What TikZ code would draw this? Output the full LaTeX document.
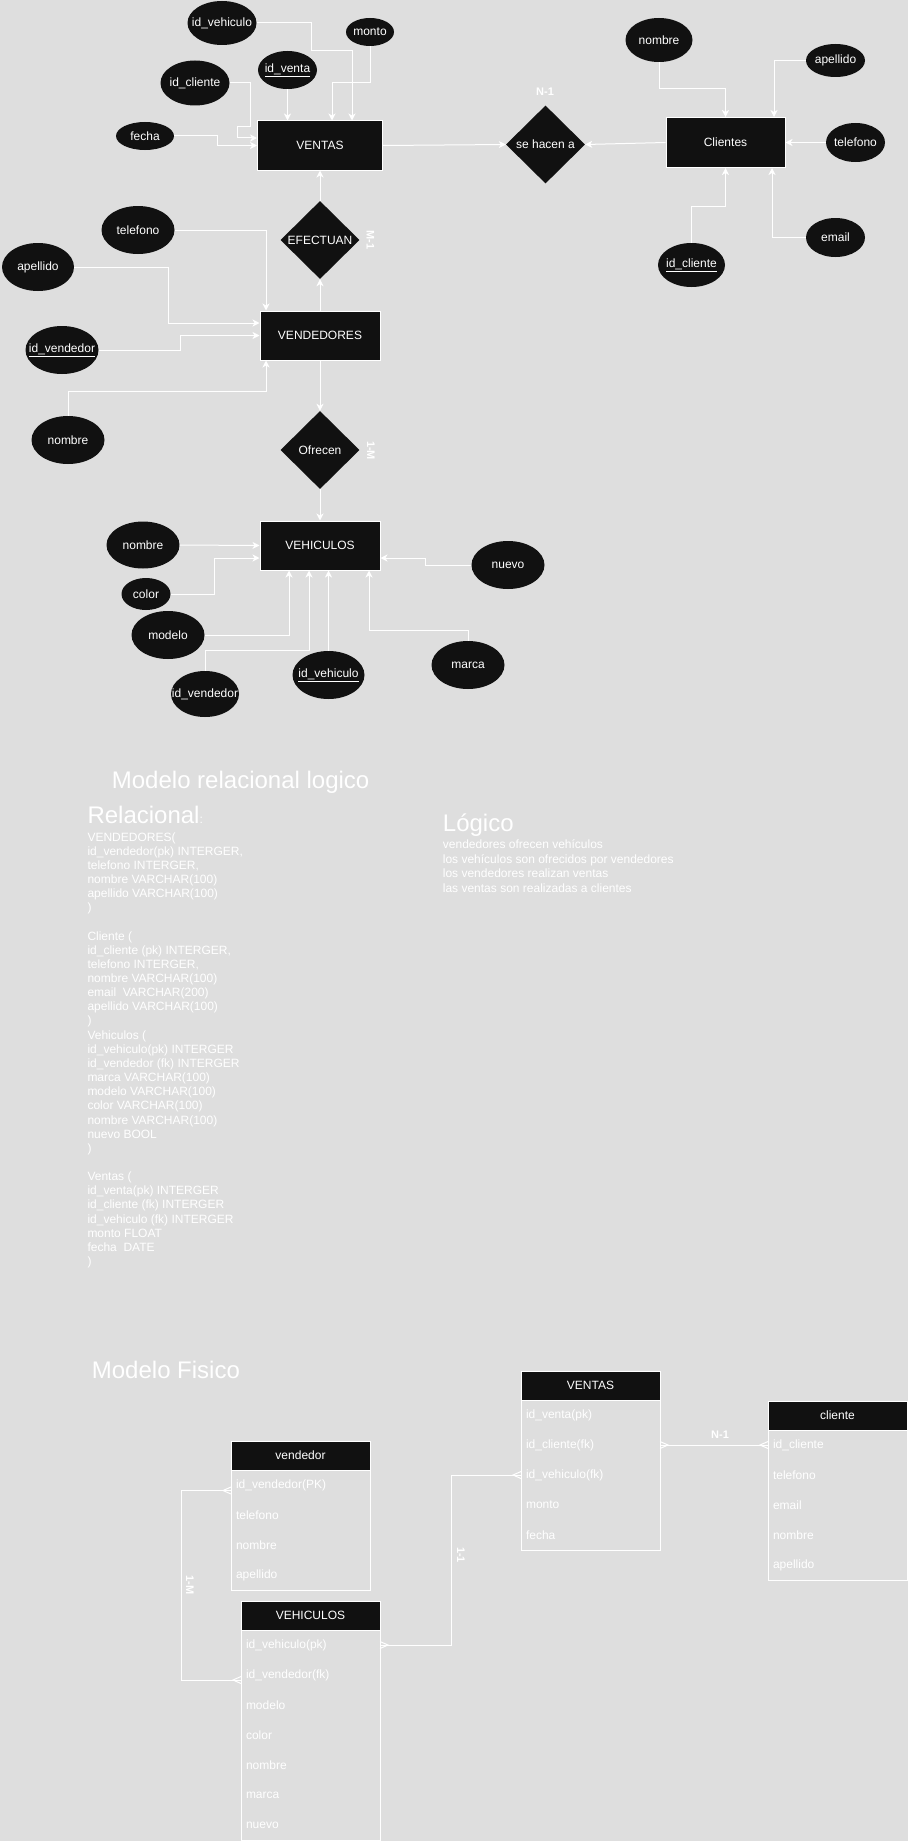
\documentclass[tikz,border=0pt]{standalone}
\usepackage{fontspec}
\setmainfont{Liberation Sans}
\usetikzlibrary{shapes.geometric,arrows.meta,calc}
\definecolor{bgc}{HTML}{DEDEDE}
\definecolor{dark}{HTML}{111111}
\newcommand\ftA{\fontsize{12}{14.4}\selectfont}
\newcommand\ftB{\fontsize{24}{28}\selectfont}
\newcommand\ftC{\bfseries\fontsize{11}{13}\selectfont}
\newcommand\zl[1]{\makebox[0pt]{#1}}
\newcommand\crowfoot[2]{\draw[wire] ($(#1)+(0,-3.5)$) -- ($(#1)+(#2,0)$) -- ($(#1)+(0,3.5)$);}
\begin{document}
\begin{tikzpicture}[x=1pt,y=-1pt,
  wire/.style={draw=white, line width=1pt},
  arr/.style={wire, -{Stealth[length=7pt,width=7pt,inset=2pt]}},
  attr/.style={ellipse, fill=dark, text=white, inner sep=0pt, font=\ftA},
  ent/.style={rectangle, fill=dark, draw=white, line width=1pt, text=white, inner sep=0pt, font=\ftA},
  rel/.style={diamond, aspect=1, fill=dark, text=white, inner sep=0pt, font=\ftA, minimum width=79, minimum height=78},
  card/.style={text=white, font=\ftC, inner sep=0pt},
  txt/.style={text=white, font=\ftA, inner sep=0pt, anchor=base west},
  big/.style={text=white, font=\ftB, inner sep=0pt, anchor=base west},
  thead/.style={rectangle, fill=dark, draw=white, line width=1pt, text=white, font=\ftA, minimum width=139, minimum height=29, inner sep=0pt, outer sep=0pt, anchor=north west},
  trow/.style={rectangle, text=white, font=\ftA, minimum height=30, inner xsep=5pt, inner ysep=0pt, text width=129, align=left, outer sep=0pt, anchor=north west}
]
\fill[bgc] (0,0) rectangle (908,1841);
\useasboundingbox (0,0) rectangle (908,1841);

% ---------------- VENTAS cluster
\node[attr, minimum width=69, minimum height=44] (a-idveh) at (222,23) {\zl{id\_vehiculo}};
\node[attr, minimum width=48, minimum height=28] (a-monto) at (370,32) {\zl{monto}};
\node[attr, minimum width=59, minimum height=38] (a-idventa) at (287.5,70) {\zl{\underline{id\_venta}}};
\node[attr, minimum width=69, minimum height=45] (a-idcli) at (195,83) {\zl{id\_cliente}};
\node[attr, minimum width=58, minimum height=28] (a-fecha) at (145,136) {\zl{fecha}};
\node[ent, minimum width=125, minimum height=49] (ventas) at (320,145.5) {VENTAS};
\node[rel] (efectuan) at (320,240) {EFECTUAN};
\node[card, rotate=-90] (lbl-m1) at (370.5,240) {M-1};

% ---------------- Clientes cluster
\node[rel] (sehacen) at (545.5,144.5) {se hacen a};
\node[card] (lbl-n1) at (545,92) {N-1};
\node[ent, minimum width=119, minimum height=50] (clientes) at (725.5,142.5) {Clientes};
\node[attr, minimum width=67, minimum height=44] (a-nomc) at (659,40) {\zl{nombre}};
\node[attr, minimum width=59, minimum height=33] (a-apec) at (835.5,60.5) {\zl{apellido}};
\node[attr, minimum width=59, minimum height=39] (a-telc) at (855.5,142.5) {\zl{telefono}};
\node[attr, minimum width=59, minimum height=39] (a-email) at (835.5,237.5) {\zl{email}};
\node[attr, minimum width=67, minimum height=44] (a-idclic) at (691.5,265) {\zl{\underline{id\_cliente}}};

% ---------------- VENDEDORES cluster
\node[attr, minimum width=73, minimum height=48] (a-telv) at (138,230) {\zl{telefono}};
\node[attr, minimum width=72, minimum height=48] (a-apev) at (38,267) {\zl{apellido}};
\node[attr, minimum width=73, minimum height=48] (a-idvend) at (62,350) {\zl{\underline{id\_vendedor}}};
\node[ent, minimum width=120, minimum height=49] (vendedores) at (320,335.5) {VENDEDORES};
\node[attr, minimum width=73, minimum height=48] (a-nomv) at (68,440) {\zl{nombre}};
\node[rel] (ofrecen) at (320,450) {Ofrecen};
\node[card, rotate=-90] (lbl-1m) at (371,450.5) {1-M};

% ---------------- VEHICULOS cluster
\node[ent, minimum width=120, minimum height=49] (vehiculos) at (320,545.5) {VEHICULOS};
\node[attr, minimum width=73, minimum height=47] (a-nomveh) at (143,545) {\zl{nombre}};
\node[attr, minimum width=49, minimum height=32] (a-color) at (146,594) {\zl{color}};
\node[attr, minimum width=73, minimum height=48] (a-modelo) at (168,635) {\zl{modelo}};
\node[attr, minimum width=68, minimum height=46] (a-idvendveh) at (205,694) {\zl{id\_vendedor}};
\node[attr, minimum width=72, minimum height=48] (a-idvehic) at (328.5,675) {\zl{\underline{id\_vehiculo}}};
\node[attr, minimum width=73, minimum height=48] (a-marca) at (468,665) {\zl{marca}};
\node[attr, minimum width=73, minimum height=48] (a-nuevo) at (508,565) {\zl{nuevo}};

% ---------------- ER connectors
\draw[arr] (a-idveh.east) -- (311,23) -- (311,51) -- (352,51) -- ($(ventas.north)+(32,0)$);
\draw[arr] (a-monto.south) -- (370,83) -- (332,83) -- ($(ventas.north)+(12,0)$);
\draw[arr] (a-idventa.south) -- (a-idventa.south |- ventas.north);
\draw[arr] (a-idcli.east) -- (250,83) -- (250,127) -- (237,127) -- (237,138) -- ($(ventas.west)+(0,-7.5)$);
\draw[arr] (a-fecha.east) -- (217,136) -- (217,145.5) -- (ventas.west);
\draw[arr] (ventas.east) -- (sehacen.west);
\draw[arr] (clientes.west) -- (sehacen.east);
\draw[arr] (a-nomc.south) |- ($(clientes.north)+(0,-28)$) -- (clientes.north);
\draw[arr] (a-apec.west) -| ($(clientes.north)+(48.5,0)$);
\draw[arr] (a-telc.west) -- (clientes.east);
\draw[arr] (a-email.west) -| ($(clientes.south)+(46.5,0)$);
\draw[arr] (a-idclic.north) |- ($(clientes.south)+(0,38)$) -- (clientes.south);
\draw[arr] (a-telv.east) -| ($(vendedores.north)+(-54,0)$);
\draw[arr] (a-apev.east) -- (168,267) |- ($(vendedores.west)+(0,-12.5)$);
\draw[arr] (a-idvend.east) -- (180,350) |- (vendedores.west);
\draw[arr] (a-nomv.north) |- ($(vendedores.south)+(-54,30.5)$) -- ($(vendedores.south)+(-54,0)$);
\draw[arr] (vendedores.north) -- (efectuan.south);
\draw[arr] (efectuan.north) -- (ventas.south);
\draw[arr] (vendedores.south) -- (ofrecen.north);
\draw[arr] (ofrecen.south) -- (vehiculos.north);
\draw[arr] (a-nomveh.east) -- (vehiculos.west);
\draw[arr] (a-color.east) -- (214,594) |- ($(vehiculos.west)+(0,12.5)$);
\draw[arr] (a-modelo.east) -| ($(vehiculos.south)+(-31,0)$);
\draw[arr] (a-idvendveh.north) |- ($(vehiculos.south)+(-11,80)$) -- ($(vehiculos.south)+(-11,0)$);
\draw[arr] (a-idvehic.north) -- (a-idvehic.north |- vehiculos.south);
\draw[arr] (a-marca.north) |- ($(vehiculos.south)+(49,60)$) -- ($(vehiculos.south)+(49,0)$);
\draw[arr] (a-nuevo.west) -- (425,565) |- ($(vehiculos.east)+(0,12.5)$);

% ---------------- Relational / logical text
\node[big] (t-title) at (111.7,788.3) {Modelo relacional logico};
\node[big] (t-rel) at (87.3,823.3) {Relacional{\ftA:}};
\foreach \i/\t in {0/VENDEDORES(, {1/id\_vendedor(pk) INTERGER,}, {2/telefono INTERGER,},
  3/nombre VARCHAR(100), 4/apellido VARCHAR(100), 5/),
  7/Cliente (, {8/id\_cliente (pk) INTERGER,}, {9/telefono INTERGER,}, 10/nombre VARCHAR(100),
  11/email\ \ VARCHAR(200), 12/apellido VARCHAR(100), 13/),
  14/Vehiculos (, 15/id\_vehiculo(pk) INTERGER, 16/id\_vendedor (fk) INTERGER, 17/marca VARCHAR(100),
  18/modelo VARCHAR(100), 19/color VARCHAR(100), 20/nombre VARCHAR(100), 21/nuevo BOOL, 22/),
  24/Ventas (, 25/id\_venta(pk) INTERGER, 26/id\_cliente (fk) INTERGER, 27/id\_vehiculo (fk) INTERGER,
  28/monto FLOAT, 29/fecha\ \ DATE, 30/)}
  \node[txt] (rl-\i) at (87.3,{841+14.15*\i}) {\t};
\node[big] (t-log) at (442.7,831.7) {Lógico};
\foreach \i/\t in {0/vendedores ofrecen vehículos, 1/los vehículos son ofrecidos por vendedores,
  2/los vendedores realizan ventas, 3/las ventas son realizadas a clientes}
  \node[txt] (lg-\i) at (442.7,{848.3+14.8*\i}) {\t};

% ---------------- Modelo Fisico
\node[big] (t-fis) at (91.7,1378.3) {Modelo Fisico};

\node[thead] (vd-h) at (231,1441) {vendedor};
\foreach \t [count=\k] in {id\_vendedor(PK),telefono,nombre,apellido}
  \node[trow] (vd-r\k) at (231,{1440+30*\k}) {\t};
\draw[wire] (vd-h.north west) rectangle (vd-r4.south east);

\node[thead] (vt-h) at (521,1371) {VENTAS};
\foreach \t [count=\k] in {id\_venta(pk),id\_cliente(fk),id\_vehiculo(fk),monto,fecha}
  \node[trow] (vt-r\k) at (521,{1370+30*\k}) {\t};
\draw[wire] (vt-h.north west) rectangle (vt-r5.south east);

\node[thead] (cl-h) at (768,1401) {cliente};
\foreach \t [count=\k] in {id\_cliente,telefono,email,nombre,apellido}
  \node[trow] (cl-r\k) at (768,{1400+30*\k}) {\t};
\draw[wire] (cl-h.north west) rectangle (cl-r5.south east);

\node[thead] (vh-h) at (241,1601) {VEHICULOS};
\foreach \t [count=\k] in {id\_vehiculo(pk),id\_vendedor(fk),modelo,color,nombre,marca,nuevo}
  \node[trow] (vh-r\k) at (241,{1600+30*\k}) {\t};
\draw[wire] (vh-h.north west) rectangle (vh-r7.south east);

% relations between tables
\draw[wire] (vt-r2.east) -- (cl-r1.west);
\crowfoot{vt-r2.east}{8}
\crowfoot{cl-r1.west}{-8}
\node[card] (lbl-n1b) at (720,1435) {N-1};

\draw[wire] (vh-r1.east) -| ($(vt-r3.west)+(-70,0)$) -- (vt-r3.west);
\crowfoot{vh-r1.east}{8}
\crowfoot{vt-r3.west}{-8}
\node[card, rotate=-90] (lbl-11) at (461,1555) {1-1};

\coordinate (fk1) at ($(vd-r1.west)+(0,5.5)$);
\coordinate (fk2) at ($(vh-r2.west)+(0,5)$);
\draw[wire] (fk1) -- (181,1490.5) |- (fk2);
\crowfoot{fk1}{-8}
\crowfoot{fk2}{-8}
\node[card, rotate=-90] (lbl-1mb) at (190,1585) {1-M};
\end{tikzpicture}
\end{document}
